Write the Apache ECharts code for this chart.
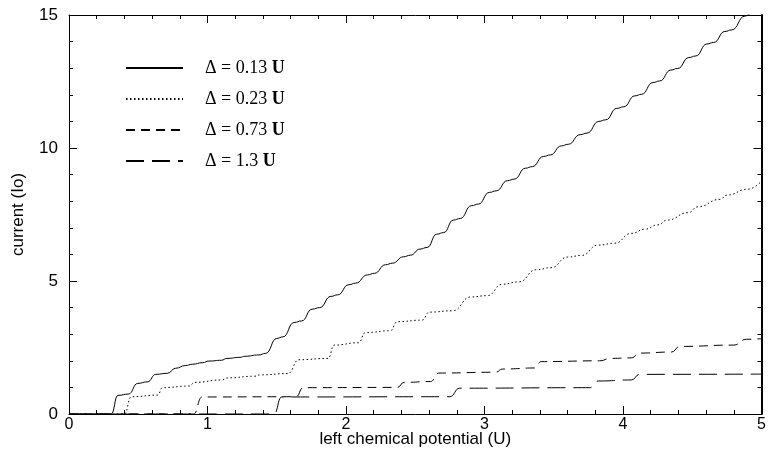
<!DOCTYPE html>
<html>
<head>
<meta charset="utf-8">
<script src="https://cdn.jsdelivr.net/npm/echarts@6/dist/echarts.min.js"></script>
<style>
html,body{margin:0;padding:0;background:#fff;}
#chart{width:769px;height:468px;}
</style>
</head>
<body>
<div id="chart"></div>
<script>
// ---- data ----
const legendLabels = ['Δ = 0.13 U', 'Δ = 0.23 U', 'Δ = 0.73 U', 'Δ = 1.3 U'];
const xTicks = [0, 1, 2, 3, 4, 5];
const yTicks = [0, 5, 10, 15];
const xName = 'left chemical potential (U)';
const yName = 'current (Io)';

const delta013 = [
  [0,0],[0.305,0],[0.353,0.70],[0.43,0.75],[0.496,1.15],[0.567,1.21],[0.627,1.49],[0.71,1.53],
  [0.77,1.72],[0.84,1.82],[0.89,1.87],[0.965,1.93],[1.01,1.99],[1.10,2.02],[1.14,2.09],[1.235,2.13],
  [1.27,2.17],[1.37,2.22],[1.42,2.28],[1.50,2.84],[1.545,2.90],[1.625,3.44],[1.68,3.50],[1.755,3.94],
  [1.81,4.00],[1.89,4.42],[1.94,4.48],[2.02,4.86],[2.07,4.92],[2.155,5.23],[2.205,5.29],[2.285,5.61],
  [2.335,5.67],[2.415,5.91],[2.465,5.97],[2.535,6.20],[2.585,6.26],[2.655,6.76],[2.705,6.82],[2.775,7.29],
  [2.825,7.35],[2.905,7.83],[2.955,7.89],[3.035,8.33],[3.085,8.39],[3.165,8.77],[3.215,8.83],[3.295,9.24],
  [3.345,9.30],[3.425,9.68],[3.475,9.74],[3.555,10.08],[3.605,10.14],[3.69,10.50],[3.74,10.56],[3.825,11.00],
  [3.875,11.06],[3.955,11.49],[4.005,11.55],[4.085,11.96],[4.135,12.02],[4.215,12.46],[4.265,12.52],[4.345,12.93],
  [4.395,12.99],[4.475,13.40],[4.525,13.46],[4.605,13.91],[4.655,13.97],[4.735,14.38],[4.785,14.44],[4.88,14.96],
  [4.95,15.3]
];
const delta023 = [
  [0,0],[0.40,0],[0.45,0.65],[0.64,0.71],[0.675,0.99],[0.865,1.05],[0.91,1.19],[1.10,1.28],
  [1.15,1.36],[1.34,1.42],[1.38,1.47],[1.58,1.52],[1.66,2.04],[1.87,2.09],[1.915,2.59],[2.09,2.68],
  [2.14,3.06],[2.32,3.13],[2.37,3.47],[2.55,3.53],[2.60,3.83],[2.77,3.88],[2.90,4.40],[3.02,4.45],
  [3.13,4.88],[3.25,4.97],[3.37,5.42],[3.48,5.50],[3.60,5.90],[3.70,5.96],[3.82,6.35],[3.94,6.42],
  [4.06,6.79],[4.16,6.95],[4.25,7.11],[4.32,7.29],[4.47,7.57],[4.54,7.79],[4.70,8.07],[4.75,8.23],
  [4.90,8.45],[5.0,8.76]
];
const delta073 = [
  [0,0],[0.90,0],[0.96,0.64],[1.64,0.65],[1.69,0.99],[2.37,1.0],[2.42,1.19],[2.61,1.22],
  [2.67,1.54],[3.08,1.57],[3.13,1.69],[3.36,1.73],[3.41,1.97],[3.83,2.0],[3.91,2.09],[4.06,2.11],
  [4.12,2.29],[4.35,2.33],[4.41,2.54],[4.80,2.59],[4.89,2.81],[5.0,2.83]
];
const delta130 = [
  [0,0],[1.48,0],[1.535,0.64],[2.75,0.65],[2.82,0.97],[3.76,0.99],[3.82,1.24],[4.06,1.28],
  [4.12,1.49],[5.0,1.50]
];

const seriesData = [delta013, delta023, delta073, delta130];
const dashTypes = ['solid', [1.5, 2.5], [9, 6], [18, 8]];

const SANS = 'Liberation Sans, Arial, sans-serif';
const SERIF = 'Liberation Serif, Times New Roman, serif';

const chart = echarts.init(document.getElementById('chart'), null, {renderer: 'canvas'});

const axisCommon = {
  axisLine: {show: true, onZero: false, lineStyle: {color: '#000', width: 1}},
  axisTick: {show: true, inside: true, length: 8, lineStyle: {color: '#000', width: 1}},
  minorTick: {show: true, splitNumber: 5, length: 4, lineStyle: {color: '#000', width: 1}},
  splitLine: {show: false},
  minorSplitLine: {show: false}
};

const option = {
  animation: false,
  backgroundColor: '#fff',
  grid: {left: 69, right: 1, top: 15, bottom: 54, containLabel: false},
  legend: {
    orient: 'vertical',
    left: 120,
    top: 54,
    itemWidth: 57,
    itemHeight: 14,
    itemGap: 13,
    data: legendLabels,
    itemStyle: {color: 'rgba(0,0,0,0)', borderColor: 'rgba(0,0,0,0)', borderWidth: 0},
    textStyle: {
      fontFamily: SERIF, fontSize: 18, color: '#000', lineHeight: 14,
      padding: [0, 0, 0, 17],
      rich: {b: {fontFamily: SERIF, fontSize: 18, fontWeight: 'bold', color: '#000', lineHeight: 14}}
    },
    formatter: function (name) { return name.replace(/U$/, '{b|U}'); },
    selectedMode: false
  },
  xAxis: [
    Object.assign({}, axisCommon, {
      type: 'value', position: 'bottom', min: xTicks[0], max: xTicks[xTicks.length - 1], interval: 1,
      name: xName, nameLocation: 'middle', nameGap: 17, nameMoveOverlap: false,
      nameTextStyle: {fontFamily: SANS, fontSize: 17, color: '#000', verticalAlign: 'top'},
      axisLabel: {show: true, fontFamily: SANS, fontSize: 16, color: '#000', margin: 3,
        alignMinLabel: 'center', alignMaxLabel: 'center', hideOverlap: false}
    }),
    Object.assign({}, axisCommon, {
      type: 'value', position: 'top', min: xTicks[0], max: xTicks[xTicks.length - 1], interval: 1,
      axisLabel: {show: false}
    })
  ],
  yAxis: [
    Object.assign({}, axisCommon, {
      type: 'value', position: 'left', min: yTicks[0], max: yTicks[yTicks.length - 1], interval: 5,
      name: yName, nameLocation: 'middle', nameGap: 42, nameRotate: 90, nameMoveOverlap: false,
      nameTextStyle: {fontFamily: SANS, fontSize: 17, color: '#000'},
      axisLabel: {show: true, fontFamily: SANS, fontSize: 17, color: '#000', margin: 11}
    }),
    Object.assign({}, axisCommon, {
      type: 'value', position: 'right', min: yTicks[0], max: yTicks[yTicks.length - 1], interval: 5,
      axisLine: {show: true, onZero: false, lineStyle: {color: '#000', width: 2}},
      axisLabel: {show: false}
    })
  ],
  series: seriesData.map(function (d, i) {
    return {
      name: legendLabels[i],
      type: 'line',
      xAxisIndex: 0,
      yAxisIndex: 0,
      data: d,
      symbol: 'none',
      showSymbol: false,
      smooth: 0.5,
      smoothMonotone: 'x',
      clip: true,
      lineStyle: {color: '#000', width: 1, type: dashTypes[i]},
      itemStyle: {color: '#000'},
      z: 3
    };
  })
};

chart.setOption(option);
</script>
</body>
</html>
